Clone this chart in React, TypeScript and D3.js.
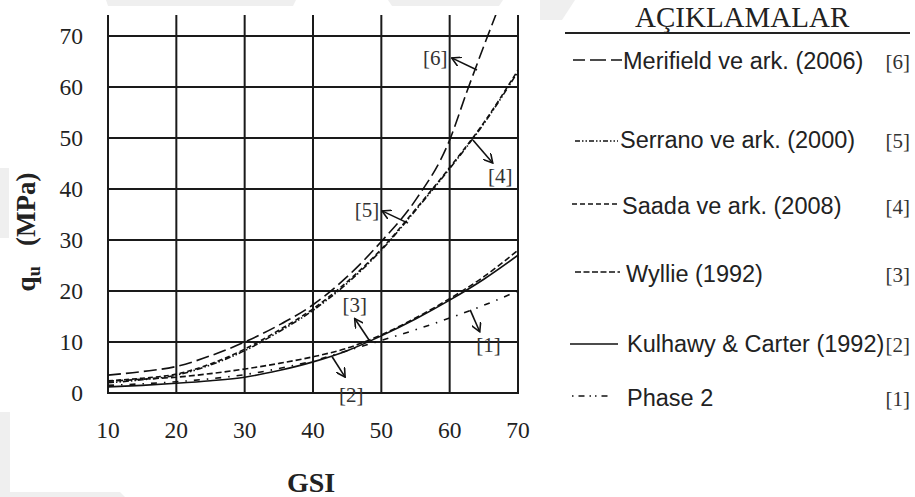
import React from "react";
import * as d3 from "d3";

// ---- Data ----
const gsi = [10, 15, 20, 25, 30, 35, 40, 45, 50, 55, 60, 65, 70];
const phase2 = [1.5, 1.8, 2.2, 2.8, 3.6, 4.8, 6.3, 8.3, 10.3, 12.4, 14.7, 17.2, 20.0];
const kulhawy = [1.2, 1.5, 1.9, 2.4, 3.1, 4.4, 6.1, 8.3, 11.2, 14.5, 18.2, 22.3, 27.0];
const wyllie = [2.3, 2.7, 3.1, 3.8, 4.7, 5.8, 7.1, 8.8, 11.4, 14.7, 18.5, 22.8, 28.0];
const saada = [2.4, 2.9, 3.7, 5.7, 8.6, 12.3, 16.5, 21.8, 28.2, 36.0, 44.2, 53.0, 63.3];
const serrano = [2.0, 2.6, 3.5, 5.5, 8.3, 12.0, 16.2, 21.5, 28.0, 35.8, 44.0, 52.8, 63.0];
const merifieldGsi = [10, 15, 20, 25, 30, 35, 40, 45, 50, 55, 60, 62.5, 65, 67];
const merifield = [3.5, 4.2, 5.2, 7.3, 10.0, 13.3, 17.3, 22.8, 29.7, 37.8, 49.6, 59.0, 68.0, 75.0];

const xTicks = [10, 20, 30, 40, 50, 60, 70];
const yTicks = [0, 10, 20, 30, 40, 50, 60, 70];

const legendLabels = [
  "Merifield ve ark. (2006)",
  "Serrano ve ark. (2000)",
  "Saada ve ark. (2008)",
  "Wyllie (1992)",
  "Kulhawy & Carter (1992)",
  "Phase 2",
];
const legendRefs = ["[6]", "[5]", "[4]", "[3]", "[2]", "[1]"];

// annotations: label, text anchor point, arrow tail, arrow head (data units)
const annLabels = ["[6]", "[5]", "[4]", "[3]", "[2]", "[1]"];
const annTextGsi = [57.9, 47.9, 67.4, 46.1, 45.6, 65.7];
const annTextQ = [64.3, 34.5, 41.2, 15.9, -1.8, 8.0];
const annTailGsi = [64.0, 53.9, 63.4, 48.2, 42.8, 63.0];
const annTailQ = [63.3, 33.3, 49.6, 10.4, 7.1, 16.3];
const annHeadGsi = [60.3, 50.1, 66.3, 46.1, 44.7, 64.4];
const annHeadQ = [65.7, 35.7, 45.1, 14.6, 3.1, 12.0];

export default function App() {
  const W = 915;
  const H = 497;
  const x = d3.scaleLinear().domain([10, 70]).range([108, 518]);
  const y = d3.scaleLinear().domain([0, 74.1]).range([393, 15]);

  const line = d3
    .line<[number, number]>()
    .x((d) => x(d[0]))
    .y((d) => y(d[1]))
    .curve(d3.curveMonotoneX);

  const zip = (xs: number[], ys: number[]) => xs.map((v, i) => [v, ys[i]] as [number, number]);

  const series = [
    { vals: zip(merifieldGsi, merifield), dash: "13 5" },
    { vals: zip(gsi, serrano), dash: "6 2 1.5 2 1.5 2" },
    { vals: zip(gsi, saada), dash: "5 3" },
    { vals: zip(gsi, wyllie), dash: "6 3" },
    { vals: zip(gsi, kulhawy), dash: "none" },
    { vals: zip(gsi, phase2), dash: "6 7 1.5 7" },
  ];

  const legendDash = ["12 5 4 0", "5 2 1.5 2 1.5 2", "5 3", "6 2.5", "none", "1.5 5 6 5 1.5 4"];
  const legendX1 = [573, 575, 572, 575, 570, 572];
  const legendX2 = [622, 618, 618, 620, 618, 612];
  const legendLineY = [60, 141, 204, 272, 344, 396];
  const legendBase = [69, 148, 214, 282, 352, 406];
  const legendTextX = [623, 620, 622, 626, 627, 627];

  const textColor = "#222";
  const serif = "'Liberation Serif', 'Times New Roman', serif";
  const sans = "'Liberation Sans', Arial, sans-serif";

  return (
    <svg
      width={W}
      height={H}
      style={{ position: "absolute", left: 0, top: 0, background: "#fff" }}
    >
      <defs>
        <clipPath id="plotClip">
          <rect x={108} y={15} width={410} height={378} />
        </clipPath>
        <marker
          id="arrow"
          viewBox="0 0 10 10"
          refX={9}
          refY={5}
          markerWidth={10}
          markerHeight={10}
          markerUnits="userSpaceOnUse"
          orient="auto"
        >
          <path d="M0,0 L9,5 L0,10" fill="none" stroke="#111" strokeWidth={1.6} />
        </marker>
      </defs>

      {/* faint watermark shapes */}
      <g fill="#efefef">
        <polygon points="106,0 296,0 293,6 108,6" />
        <polygon points="388,0 503,0 499,6 392,6" />
        <rect x={0} y={168} width={9} height={70} />
        <polygon points="0,412 10,412 10,492 120,492 125,497 0,497" />
        <polygon points="540,0 575,0 562,20 540,20" />
      </g>

      {/* grid */}
      <g stroke="#1a1a1a" strokeWidth={2}>
        {xTicks.map((t) => (
          <line key={"vx" + t} x1={x(t)} x2={x(t)} y1={y(74.1)} y2={y(0) + 1} />
        ))}
        {yTicks.map((t) => (
          <line key={"hy" + t} x1={x(10) - 1} x2={x(70) + 1} y1={y(t)} y2={y(t)} />
        ))}
      </g>

      {/* curves */}
      <g clipPath="url(#plotClip)" fill="none" stroke="#111" strokeWidth={1.6}>
        {series.map((s, i) => (
          <path key={i} d={line(s.vals) || ""} strokeDasharray={s.dash} />
        ))}
      </g>

      {/* annotations */}
      <g>
        {annLabels.map((lab, i) => (
          <g key={lab}>
            <line
              x1={x(annTailGsi[i])}
              y1={y(annTailQ[i])}
              x2={x(annHeadGsi[i])}
              y2={y(annHeadQ[i])}
              stroke="#111"
              strokeWidth={1.6}
              markerEnd="url(#arrow)"
            />
            <text
              x={x(annTextGsi[i])}
              y={y(annTextQ[i])}
              textAnchor="middle"
              fontFamily={serif}
              fontSize={21}
              fill="#333"
            >
              {lab}
            </text>
          </g>
        ))}
      </g>

      {/* tick labels */}
      <g fontFamily={serif} fontSize={23.5} fill={textColor}>
        {yTicks.map((t) => (
          <text key={"yt" + t} x={83} y={y(t)} dy="0.35em" textAnchor="end">
            {t}
          </text>
        ))}
        {xTicks.map((t) => (
          <text key={"xt" + t} x={x(t)} y={438} textAnchor="middle">
            {t}
          </text>
        ))}
      </g>

      {/* axis titles */}
      <text
        x={311}
        y={492}
        textAnchor="middle"
        fontFamily={serif}
        fontWeight="bold"
        fontSize={28}
        fill={textColor}
      >
        GSI
      </text>
      <text
        transform="translate(35,232) rotate(-90)"
        textAnchor="middle"
        fontFamily={serif}
        fontWeight="bold"
        fontSize={27}
        fill={textColor}
        xmlSpace="preserve"
      >
        <tspan>q</tspan>
        <tspan dy={5} fontSize={18}>u</tspan>
        <tspan dy={-5}>{"   (MPa)"}</tspan>
      </text>

      {/* legend */}
      <text x={635} y={27} fontFamily={serif} fontSize={29} fill={textColor}>
        AÇIKLAMALAR
      </text>
      <line x1={565} x2={910} y1={33} y2={33} stroke="#222" strokeWidth={1.8} />
      {legendLabels.map((lab, i) => (
        <g key={lab}>
          <line
            x1={legendX1[i]}
            x2={legendX2[i]}
            y1={legendLineY[i]}
            y2={legendLineY[i]}
            stroke="#111"
            strokeWidth={1.6}
            strokeDasharray={legendDash[i]}
          />
          <text
            x={legendTextX[i]}
            y={legendBase[i]}
            fontFamily={sans}
            fontSize={23.5}
            fill={textColor}
          >
            {lab}
          </text>
          <text
            x={910}
            y={legendBase[i]}
            textAnchor="end"
            fontFamily={serif}
            fontSize={21}
            fill="#333"
          >
            {legendRefs[i]}
          </text>
        </g>
      ))}
    </svg>
  );
}
